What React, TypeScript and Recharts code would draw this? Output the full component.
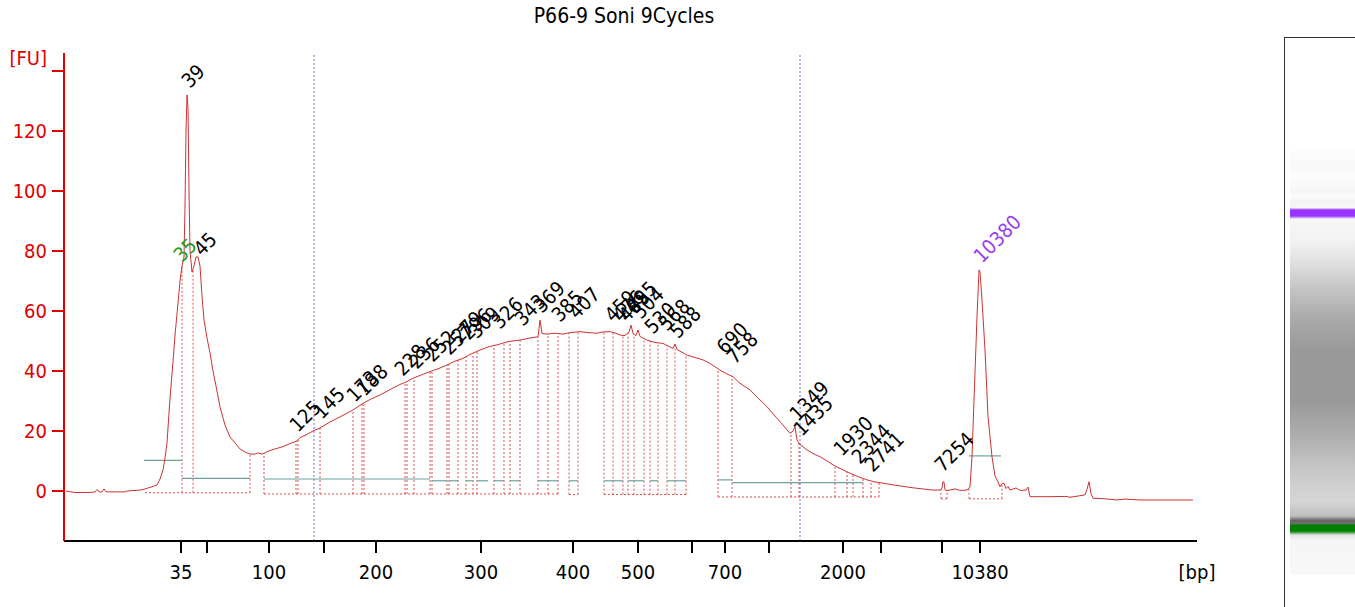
import { ComposedChart, Line, Scatter, XAxis, YAxis, ReferenceLine } from "recharts"

const FONT = "'DejaVu Sans Condensed', 'DejaVu Sans', sans-serif"

// scan position along the lane (arbitrary units) and fluorescence
const tracePos = [
    66, 75, 90, 95, 97, 99, 102, 104, 106, 125, 127, 140, 143, 150, 157, 160, 163, 165, 167, 170,
    173, 175, 177, 180, 182, 184, 185, 186, 187, 188, 189, 190, 192, 194, 196, 198, 200, 202, 204, 207,
    210, 213, 216, 220, 225, 230, 235, 240, 245, 250, 255, 258, 262, 265, 270, 275, 283, 290, 297, 300,
    305, 313, 320, 330, 340, 353, 363, 370, 380, 390, 400, 407, 413, 420, 430, 440, 447, 455, 463, 470,
    480, 490, 497, 505, 512, 520, 530, 538, 540, 542, 547, 555, 563, 570, 580, 588, 597, 603, 610, 615,
    620, 625, 629, 631, 633, 636, 638, 640, 647, 655, 663, 670, 673, 675, 677, 687, 695, 703, 710, 717,
    720, 727, 733, 740, 750, 758, 767, 775, 783, 790, 793, 795, 797, 800, 807, 813, 820, 827, 833, 840,
    850, 858, 867, 875, 883, 892, 900, 910, 917, 925, 933, 940, 942, 943, 944, 945, 947, 955, 960, 967,
    970, 972, 974, 977, 979, 980, 982, 985, 988, 992, 995, 997, 1000, 1002, 1004, 1006, 1008, 1010, 1016, 1020,
    1026, 1028, 1030, 1050, 1066, 1070, 1085, 1087, 1089, 1091, 1093, 1105, 1117, 1125, 1140, 1160, 1193,
]
const traceFu = [
    0, -0.5, -0.5, -0.3, 0.5, -0.3, -0.3, 0.7, -0.3, -0.3, 0, 0.3, 0.5, 1.2, 2, 4, 7, 11, 16, 31,
    43, 52, 59, 70, 75, 78, 95, 120, 132, 128, 100, 80, 73, 75, 78, 78, 75, 65, 57, 51,
    46, 40, 35, 28, 22, 18, 16, 14, 13, 12.3, 12.3, 12.7, 12.3, 12.7, 13.5, 14, 14.8, 15.8, 16.7, 17.8,
    18.5, 20, 21, 23, 24.7, 27, 29.2, 30.5, 32, 33.8, 35.5, 36.5, 37.6, 38.5, 39.8, 41, 42, 43.3, 44.2, 45.5,
    47, 48.2, 48.7, 49.5, 50, 50.3, 51, 51.4, 57, 52.5, 52.3, 52.6, 52.3, 52.8, 53.1, 52.8, 52.6, 53, 53.1, 52.7,
    52, 51.8, 53, 55.3, 52.5, 51.8, 53.7, 51.5, 50.3, 49.5, 49.2, 48, 47.5, 49, 47.2, 45.3, 44.5, 43.7, 42.5, 41,
    40.3, 39, 38.1, 35.9, 33.7, 31, 28.1, 25, 22, 19.2, 20, 21.5, 17, 15.5, 13.7, 12.5, 11.4, 10, 8.7, 7.5,
    5.9, 4.8, 3.7, 3, 2.6, 2.1, 1.7, 1.2, 0.9, 0.6, 0.3, 0.3, 1, 3.1, 3, 0.4, 0.1, 0.7, 0.2, 0.3,
    1.4, 11.4, 30.3, 58, 73.7, 73, 63.7, 47, 24.8, 11.4, 5, 3.7, 1.4, 2.5, 2.6, 0.8, 1.5, 0.3, 1, 0.2,
    0.3, 1.3, -1.9, -1.9, -1.8, -2.1, -1.3, 0.5, 3.1, -0.8, -2.4, -2.6, -3, -2.7, -3, -3, -3,
]

// ladder
const ladderSizes = [35, 50, 100, 150, 200, 300, 400, 500, 600, 700, 1000, 2000, 3000, 7000, 10380]
const ladderPos = [181, 207, 269, 324, 376, 481, 573, 638, 692, 725, 769, 843, 881, 942, 980]
const ladderShown = [35, 100, 200, 300, 400, 500, 700, 2000, 10380]

// called peaks
const peakSizes = [
    "35", "39", "45", "125", "145", "173", "188", "228", "236", "252", "257", "279", "296", "309",
    "326", "343", "369", "385", "407", "459", "476", "485", "495", "504", "530", "568", "588",
    "690", "758", "1349", "1435", "1930", "2344", "2741", "7254", "10380",
]
const peakPos = [
    179, 187, 199, 295, 319, 352, 362, 400, 414, 430, 447, 457, 466, 474,
    497, 520, 539, 557, 574, 610, 618, 624, 631, 638, 650, 664, 675,
    722, 732, 795, 799, 839, 857, 870, 940, 979,
]
const peakFu = [
    74, 132, 76, 17.3, 21.7, 27.3, 29.3, 36, 38.3, 40.7, 43, 47, 48, 48.5,
    51.7, 52.7, 57, 54, 55, 54, 54, 54, 57, 55, 50, 51, 48.5,
    43.3, 40, 21, 16, 9.3, 6.7, 4, 4, 73.7,
]
const lowerMarker = "35"
const upperMarker = "10380"

// peak window edges and floors
const windowEdges = [
    182, 193, 250, 264, 296, 298, 320, 353, 362, 364, 405, 407, 414, 430, 432, 447, 449, 458, 466, 473,
    477, 494, 504, 510, 520, 538, 548, 558, 569, 578, 604, 613, 623, 628, 634, 644, 650, 658, 667, 675,
    686, 718, 732, 791, 799, 835, 847, 853, 863, 871, 879, 941, 947, 969, 1002,
]
const floorFrom = [145, 264, 569, 604, 718, 941, 969]
const floorTo = [250, 558, 578, 686, 879, 947, 1002]
const floorFu = [-0.6, -1, -1.2, -1.2, -2, -2.6, -2.6]

// local baselines
const baseFrom = [144, 182, 264, 432, 449, 466, 477, 494, 510, 538, 569, 604, 628, 650, 667, 718, 732, 969]
const baseTo = [182, 250, 430, 447, 458, 473, 488, 504, 520, 558, 578, 623, 644, 658, 686, 732, 863, 1001]
const baseFu = [10.2, 4.2, 4, 3.4, 3.4, 3.4, 3.4, 3.4, 3.4, 3.4, 3.4, 3.4, 3.4, 3.4, 3.4, 3.7, 2.8, 11.7]

const regionMarks = [314, 800]
const yTicks = [0, 20, 40, 60, 80, 100, 120, 140]

const traceData = tracePos.map((pos, i) => ({ pos, fu: traceFu[i] }))
const peakData = peakPos.map((pos, i) => ({ pos, fu: peakFu[i], label: peakSizes[i] }))

function traceAt(p: number) {
    for (let i = 1; i < tracePos.length; i++) {
        if (tracePos[i] >= p) {
            const t = (p - tracePos[i - 1]) / (tracePos[i] - tracePos[i - 1])
            return traceFu[i - 1] + t * (traceFu[i] - traceFu[i - 1])
        }
    }
    return traceFu[traceFu.length - 1]
}

function floorAt(p: number) {
    const i = floorFrom.findIndex((f, k) => p >= f && p <= floorTo[k])
    return i >= 0 ? floorFu[i] : -1
}

const PeakLabel = (props: any) => {
    const { cx, cy, payload } = props
    const x = cx + 3
    const y = cy - 6
    let color = "#000"
    if (payload.label === lowerMarker && payload.pos < 185) color = "#1f9a1f"
    if (payload.label === upperMarker) color = "#9a3cf0"
    return (
        <text x={x} y={y} transform={`rotate(-45 ${x} ${y})`} fill={color} fontSize={20} fontFamily={FONT}>
            {payload.label}
        </text>
    )
}

const FuLabel = (props: any) => {
    const vb = props.viewBox
    return (
        <text x={vb.x + vb.width - 17} y={vb.y + 12} textAnchor="end" fill="#e00000" fontSize={20} fontFamily={FONT}>
            [FU]
        </text>
    )
}

const BpLabel = (props: any) => {
    const vb = props.viewBox
    return (
        <text x={vb.x + vb.width} y={vb.y + 38} textAnchor="middle" fill="#000" fontSize={20} fontFamily={FONT}>
            [bp]
        </text>
    )
}

function xLabel(v: number) {
    const s = ladderSizes[ladderPos.indexOf(v)]
    return ladderShown.includes(s) ? String(s) : ""
}

export default function App() {
    return (
        <div style={{ position: "absolute", left: 0, top: 0, width: 1355, height: 607, background: "#fff", fontFamily: FONT }}>
            <div style={{ position: "absolute", left: 0, top: 4, width: 1248, textAlign: "center", fontSize: 21 }}>
                P66-9 Soni 9Cycles
            </div>
            <ComposedChart width={1355} height={607} margin={{ top: 53, right: 158, bottom: 36, left: 0 }}>
                <XAxis
                    type="number"
                    dataKey="pos"
                    domain={[64, 1197]}
                    ticks={ladderPos}
                    interval={0}
                    tickFormatter={xLabel}
                    height={30}
                    tickSize={12}
                    tickMargin={12}
                    axisLine={{ stroke: "#000", strokeWidth: 2 }}
                    tickLine={{ stroke: "#000", strokeWidth: 2 }}
                    tick={{ fill: "#000", fontSize: 20, fontFamily: FONT }}
                    allowDataOverflow
                    label={<BpLabel />}
                />
                <YAxis
                    type="number"
                    domain={[-16.67, 146]}
                    ticks={yTicks}
                    interval={0}
                    tickFormatter={(v) => (v === 140 ? "" : String(v))}
                    width={64}
                    tickSize={12}
                    tickMargin={5}
                    axisLine={{ stroke: "#e00000", strokeWidth: 2 }}
                    tickLine={{ stroke: "#e00000", strokeWidth: 2 }}
                    tick={{ fill: "#e00000", fontSize: 20, fontFamily: FONT }}
                    allowDataOverflow
                    label={<FuLabel />}
                />
                {regionMarks.map((m) => (
                    <ReferenceLine key={"r" + m} x={m} stroke="#6f6fd8" strokeDasharray="2 2" strokeWidth={1} />
                ))}
                {floorFrom.map((f, i) => (
                    <ReferenceLine
                        key={"f" + i}
                        segment={[{ x: f, y: floorFu[i] }, { x: floorTo[i], y: floorFu[i] }]}
                        stroke="#dd5050"
                        strokeDasharray="2 2"
                    />
                ))}
                {windowEdges.map((e) => (
                    <ReferenceLine
                        key={"e" + e}
                        segment={[{ x: e, y: floorAt(e) }, { x: e, y: traceAt(e) }]}
                        stroke="#dd5050"
                        strokeDasharray="2 2"
                    />
                ))}
                {baseFrom.map((f, i) => (
                    <ReferenceLine
                        key={"b" + i}
                        segment={[{ x: f, y: baseFu[i] }, { x: baseTo[i], y: baseFu[i] }]}
                        stroke="#6aa3a0"
                        strokeWidth={1.2}
                    />
                ))}
                <Line
                    data={traceData}
                    dataKey="fu"
                    type="linear"
                    stroke="#cc3333"
                    strokeWidth={1}
                    dot={false}
                    isAnimationActive={false}
                />
                <Scatter data={peakData} dataKey="fu" shape={PeakLabel} isAnimationActive={false} />
            </ComposedChart>
            <div
                style={{
                    position: "absolute",
                    left: 1284,
                    top: 37,
                    width: 71,
                    height: 570,
                    borderLeft: "1px solid #333",
                    borderTop: "1px solid #333",
                }}
            >
                <div
                    style={{
                        position: "absolute",
                        left: 5,
                        right: 0,
                        top: 107,
                        height: 430,
                        background:
                            "linear-gradient(to bottom, #fefefe 0%, #f8f8f8 5.6%, #fdfdfd 7%, #f6f6f6 10.9%, #fbfbfb 12%, #f3f3f3 13.3%, #f7f7f7 14.6%, #9933ff 15.1%, #9933ff 16.5%, #f7f7f7 17.2%, #f2f2f2 22%, #e6e6e6 26%, #c8c8c8 32.6%, #a8a8a8 40.9%, #999999 47.9%, #999999 59.5%, #adadad 67.4%, #c8c8c8 75.8%, #d6d6d6 82.8%, #bdbdbd 86.3%, #666666 87.3%, #707070 88%, #008000 88.4%, #008000 89.8%, #e4e4e4 90.7%, #f5f5f5 92%, #f8f8f8 100%)",
                    }}
                />
            </div>
        </div>
    )
}
